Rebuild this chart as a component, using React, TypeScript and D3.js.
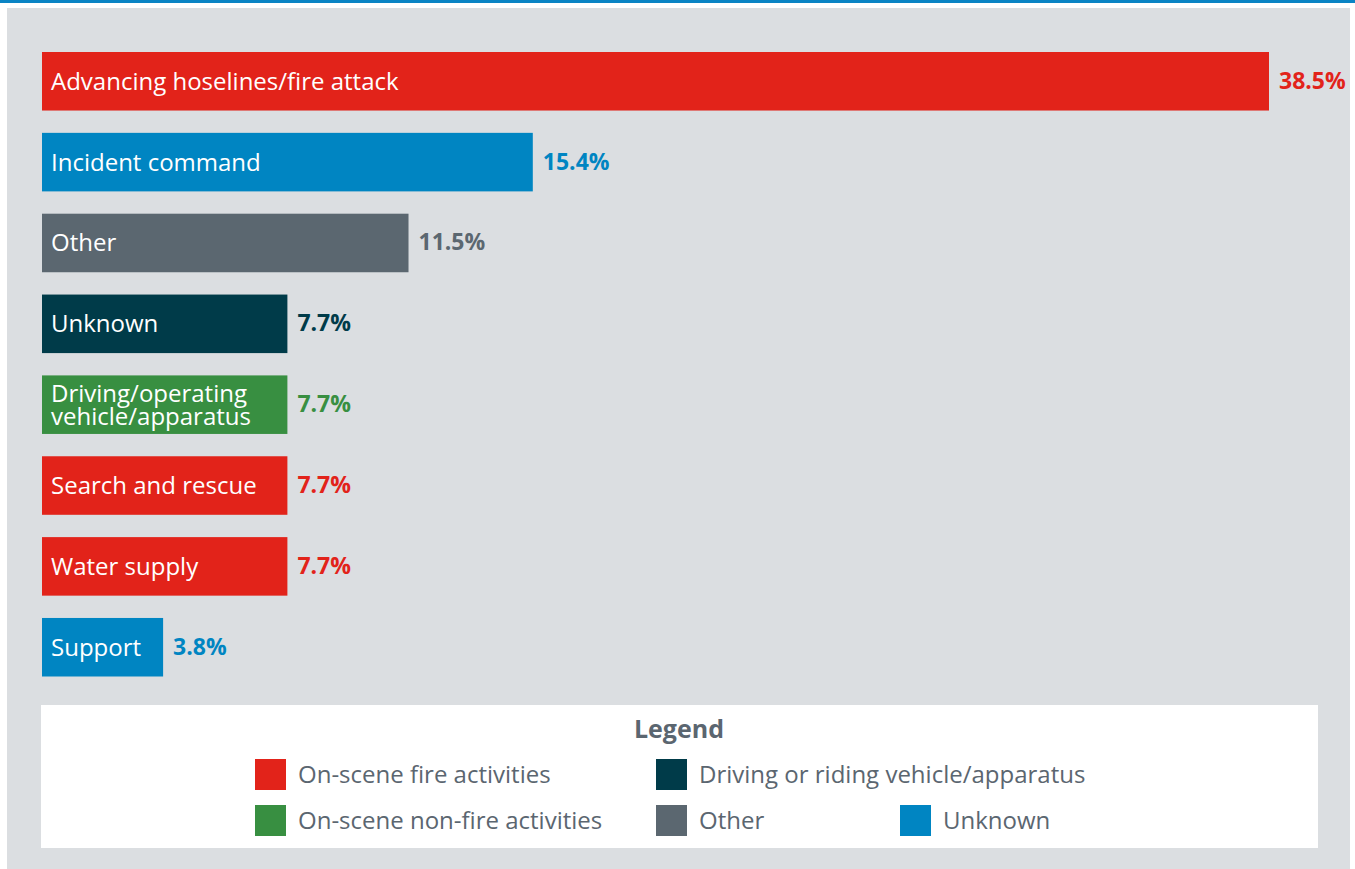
import React from "react";
import * as d3 from "d3";

const categories = [
  "Advancing hoselines/fire attack",
  "Incident command",
  "Other",
  "Unknown",
  "Driving/operating vehicle/apparatus",
  "Search and rescue",
  "Water supply",
  "Support",
];
const labelLines = [
  ["Advancing hoselines/fire attack"],
  ["Incident command"],
  ["Other"],
  ["Unknown"],
  ["Driving/operating", "vehicle/apparatus"],
  ["Search and rescue"],
  ["Water supply"],
  ["Support"],
];
const values = [38.5, 15.4, 11.5, 7.7, 7.7, 7.7, 7.7, 3.8];
const groups = ["fire", "unknown", "other", "driving", "nonfire", "fire", "fire", "unknown"];

const legendKeys = ["fire", "driving", "nonfire", "other", "unknown"];
const legendLabels = [
  "On-scene fire activities",
  "Driving or riding vehicle/apparatus",
  "On-scene non-fire activities",
  "Other",
  "Unknown",
];
const groupColors: Record<string, string> = {
  fire: "#e2231a",
  driving: "#003b49",
  nonfire: "#388f41",
  other: "#5b6770",
  unknown: "#0085c2",
};

const FONT = "'Open Sans', sans-serif";

export default function App() {
  const W = 1355;
  const H = 869;
  const x = d3.scaleLinear().domain([0, 38.5]).range([42, 1269]);
  const y = d3
    .scaleBand<string>()
    .domain(categories)
    .range([52, 676.5])
    .paddingInner(0.276)
    .paddingOuter(0);
  const bw = y.bandwidth();
  const lineH = 23;

  const legendPos = [
    [255, 759],
    [656, 759],
    [255, 805],
    [656, 805],
    [900, 805],
  ];

  return (
    <svg
      width={W}
      height={H}
      style={{ position: "absolute", left: 0, top: 0, display: "block" }}
      fontFamily={FONT}
    >
      <rect x={0} y={0} width={W} height={H} fill="#ffffff" />
      <rect x={0} y={0} width={W} height={3} fill="#0a84c4" />
      <rect x={7} y={8} width={1343} height={H - 8} fill="#dbdee1" />

      {categories.map((c, i) => {
        const y0 = y(c) as number;
        const col = groupColors[groups[i]];
        const lines = labelLines[i];
        const cy = y0 + bw / 2 - 1.5;
        return (
          <g key={c}>
            <rect x={x(0)} y={y0} width={x(values[i]) - x(0)} height={bw} fill={col} />
            <text
              x={x(0) + 9}
              y={cy - ((lines.length - 1) * lineH) / 2}
              fill="#ffffff"
              fontSize={24}
              dominantBaseline="central"
            >
              {lines.map((l, k) => (
                <tspan key={k} x={x(0) + 9} dy={k === 0 ? 0 : lineH}>
                  {l}
                </tspan>
              ))}
            </text>
            <text
              x={x(values[i]) + 10}
              y={cy}
              fill={col}
              fontSize={23}
              fontWeight={700}
              dominantBaseline="central"
            >
              {values[i].toFixed(1)}%
            </text>
          </g>
        );
      })}

      <rect x={41} y={705} width={1277} height={143} fill="#ffffff" />
      <text
        x={679}
        y={727.5}
        textAnchor="middle"
        dominantBaseline="central"
        fontSize={25}
        fontWeight={700}
        fill="#5b6670"
      >
        Legend
      </text>
      {legendKeys.map((k, i) => (
        <g key={k}>
          <rect x={legendPos[i][0]} y={legendPos[i][1]} width={31} height={31} fill={groupColors[k]} />
          <text
            x={legendPos[i][0] + 43}
            y={legendPos[i][1] + 14.5}
            dominantBaseline="central"
            fontSize={24}
            fill="#5b6670"
          >
            {legendLabels[i]}
          </text>
        </g>
      ))}
    </svg>
  );
}
